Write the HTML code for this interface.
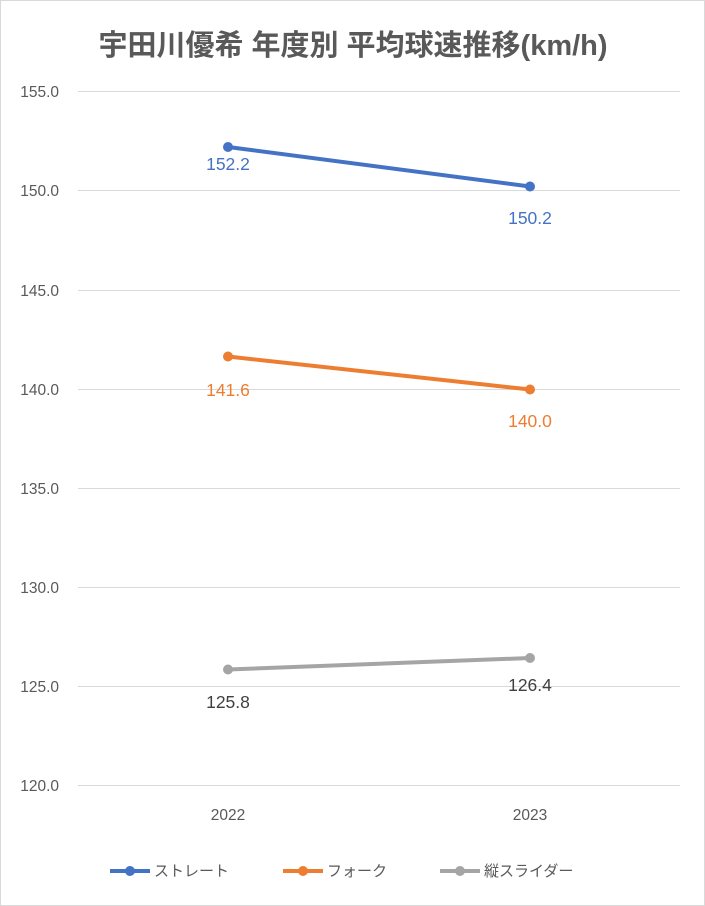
<!DOCTYPE html>
<html><head><meta charset="utf-8"><style>
html,body{margin:0;padding:0;background:#fff;}
svg{display:block;font-family:"Liberation Sans","Noto Sans CJK JP",sans-serif;}
</style></head><body>
<svg width="705" height="906" viewBox="0 0 705 906" xmlns="http://www.w3.org/2000/svg">
<rect x="0.5" y="0.5" width="704" height="905" fill="#fff" stroke="#d9d9d9"/>
<text x="353" y="55" text-anchor="middle" font-size="29" font-weight="bold" fill="#595959">宇田川優希 年度別 平均球速推移(km/h)</text>
<g stroke="#d9d9d9" stroke-width="1">
<line x1="78" x2="680" y1="91.5" y2="91.5"/>
<line x1="78" x2="680" y1="190.5" y2="190.5"/>
<line x1="78" x2="680" y1="290.5" y2="290.5"/>
<line x1="78" x2="680" y1="389.5" y2="389.5"/>
<line x1="78" x2="680" y1="488.5" y2="488.5"/>
<line x1="78" x2="680" y1="587.5" y2="587.5"/>
<line x1="78" x2="680" y1="686.5" y2="686.5"/>
<line x1="78" x2="680" y1="785.5" y2="785.5"/>
</g>
<g font-size="15.5" fill="#595959" text-anchor="end">
<text x="59" y="97">155.0</text>
<text x="59" y="196">150.0</text>
<text x="59" y="296">145.0</text>
<text x="59" y="395">140.0</text>
<text x="59" y="494">135.0</text>
<text x="59" y="593">130.0</text>
<text x="59" y="692">125.0</text>
<text x="59" y="791">120.0</text>
</g>
<g font-size="15.5" fill="#595959" text-anchor="middle">
<text x="228" y="820">2022</text>
<text x="530" y="820">2023</text>
</g>
<g stroke-width="4" stroke-linecap="round">
<line x1="228" y1="147" x2="530" y2="186.5" stroke="#4472c4"/>
<line x1="228" y1="356.5" x2="530" y2="389.5" stroke="#ed7d31"/>
<line x1="228" y1="669.5" x2="530" y2="658" stroke="#a5a5a5"/>
</g>
<circle cx="228" cy="147" r="5" fill="#4472c4"/><circle cx="530" cy="186.5" r="5" fill="#4472c4"/>
<circle cx="228" cy="356.5" r="5" fill="#ed7d31"/><circle cx="530" cy="389.5" r="5" fill="#ed7d31"/>
<circle cx="228" cy="669.5" r="5" fill="#a5a5a5"/><circle cx="530" cy="658" r="5" fill="#a5a5a5"/>
<g font-size="17.5" text-anchor="middle">
<text x="228" y="170" fill="#4472c4">152.2</text>
<text x="530" y="224" fill="#4472c4">150.2</text>
<text x="228" y="396" fill="#ed7d31">141.6</text>
<text x="530" y="427" fill="#ed7d31">140.0</text>
<text x="228" y="708" fill="#404040">125.8</text>
<text x="530" y="691" fill="#404040">126.4</text>
</g>
<g stroke-width="4">
<line x1="110" x2="150" y1="871" y2="871" stroke="#4472c4"/>
<line x1="283" x2="323" y1="871" y2="871" stroke="#ed7d31"/>
<line x1="440" x2="480" y1="871" y2="871" stroke="#a5a5a5"/>
</g>
<circle cx="130" cy="871" r="5" fill="#4472c4"/>
<circle cx="303" cy="871" r="5" fill="#ed7d31"/>
<circle cx="460" cy="871" r="5" fill="#a5a5a5"/>
<g font-size="15" fill="#595959">
<text x="154" y="876">ストレート</text>
<text x="327" y="876">フォーク</text>
<text x="484" y="876">縦スライダー</text>
</g>
</svg>
</body></html>
